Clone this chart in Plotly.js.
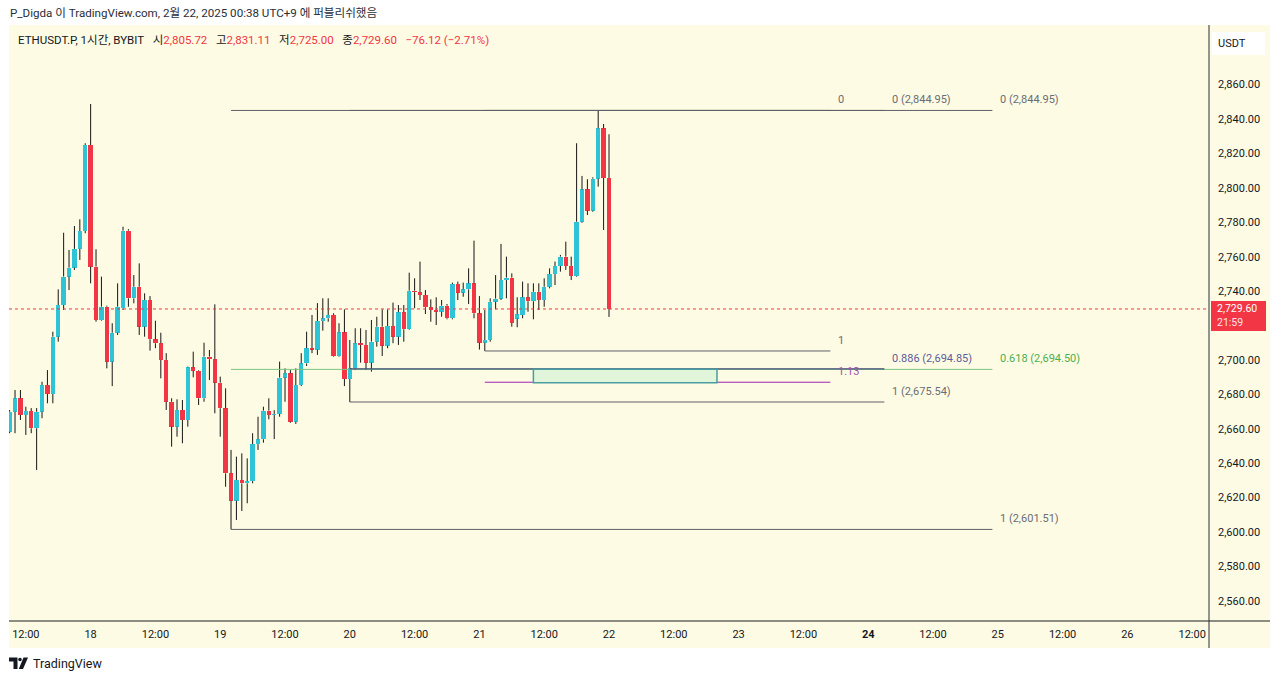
<!DOCTYPE html>
<html><head><meta charset="utf-8">
<script src="https://cdn.plot.ly/plotly-3.0.1.min.js"></script>
<style>html,body{margin:0;padding:0;background:#fff;}#chart{width:1280px;height:681px;}</style>
</head><body><div id="chart"></div>
<script>
// ---- DATA ----
const symbolTitle = 'ETHUSDT.P, 1시간, BYBIT';
const headerText = 'P_Digda 이 TradingView.com, 2월 22, 2025 00:38 UTC+9 에 퍼블리쉬했음';
const startHour = [2025, 1, 17, 9]; // first visible hourly candle (UTC+9 wall time)
const openP = [
2658.3,2669.9,2677.7,2668.0,2670.3,2660.3,2669.9,2685.4,2680.2,2713.5,2731.9,2748.4,2753.6,2764.5,2774.9,
2824.9,2754.2,2723.2,2730.9,2699.0,2715.8,2730.0,2775.1,2735.8,2742.5,2719.3,2734.8,2712.0,2709.7,2700.0,2675.7,2661.2,2670.9,2665.1,2695.7,2693.7,2677.7,2701.9,2700.4,
2686.8,2671.9,2634.1,2618.2,2630.2,2628.3,2629.6,2651.1,2653.9,2670.5,2668.0,2668.6,2689.7,2692.2,2664.1,2685.4,2698.0,2706.8,2706.0,2722.6,2724.2,2726.1,2702.3,2716.0,
2688.9,2695.1,2709.7,2708.7,2698.4,2710.6,2719.3,2708.3,2719.7,2713.5,2727.7,2717.8,2740.2,2739.4,2737.7,2730.6,2729.0,2728.0,2731.5,2724.2,2744.1,2739.1,2741.0,2744.5,
2727.1,2710.0,2711.6,2733.8,2735.6,2746.4,2747.8,2724.0,2726.1,2736.4,2734.1,2739.6,2734.8,2742.5,2749.9,2754.6,2760.0,2754.6,2748.8,2780.3,2799.1,2786.7,2805.3,2834.6,
2805.72];
const highP = [
2670.9,2682.5,2682.5,2672.8,2672.0,2672.0,2687.3,2694.1,2716.4,2741.0,2773.9,2763.9,2777.8,2781.7,2825.9,
2848.7,2764.3,2748.4,2731.5,2721.3,2744.5,2777.4,2776.0,2749.3,2756.1,2738.7,2737.1,2722.8,2715.8,2703.9,2677.7,2677.1,2676.7,2696.1,2704.8,2694.1,2710.0,2705.8,2732.3,
2690.3,2683.5,2647.7,2643.8,2645.7,2642.8,2657.4,2667.0,2672.8,2677.7,2670.8,2699.0,2695.1,2694.1,2695.1,2703.9,2716.4,2726.1,2733.0,2735.8,2735.8,2727.1,2721.3,2729.4,
2711.6,2718.4,2718.4,2717.4,2723.2,2725.1,2729.4,2729.4,2733.3,2731.9,2731.9,2750.7,2747.4,2757.1,2740.6,2735.2,2736.4,2734.8,2732.5,2744.9,2745.5,2744.9,2753.2,2769.3,
2737.1,2729.0,2735.8,2749.3,2767.4,2760.0,2750.3,2736.4,2745.5,2744.5,2744.5,2744.5,2747.4,2753.2,2757.1,2761.0,2768.7,2760.0,2825.9,2806.9,2805.0,2806.1,2844.95,2837.1,
2831.11];
const lowP = [
2657.4,2657.4,2665.1,2656.4,2657.4,2636.0,2666.1,2674.8,2674.8,2710.6,2729.0,2740.6,2752.3,2758.1,2773.6,
2744.5,2722.2,2722.8,2695.1,2684.8,2714.5,2729.0,2730.9,2732.9,2714.5,2713.5,2705.4,2706.8,2689.3,2670.9,2649.6,2655.4,2651.6,2661.2,2689.9,2673.8,2675.7,2688.3,2669.0,
2655.4,2626.3,2601.51,2607.0,2612.2,2616.7,2628.3,2647.7,2651.9,2665.5,2654.0,2667.0,2675.7,2663.5,2662.8,2684.8,2696.5,2703.9,2702.9,2717.0,2722.2,2701.9,2701.9,2684.8,
2675.54,2694.1,2698.4,2694.1,2693.2,2707.7,2702.3,2706.8,2709.7,2708.7,2710.6,2717.4,2730.0,2734.8,2726.7,2722.2,2720.3,2725.1,2723.6,2723.6,2734.8,2736.7,2732.5,2724.2,
2706.0,2705.2,2710.6,2729.4,2734.8,2735.8,2719.3,2719.0,2724.2,2728.0,2723.6,2729.0,2730.9,2741.6,2743.5,2751.3,2752.3,2746.4,2748.4,2779.7,2784.2,2786.1,2800.7,2775.5,
2725.00];
const closeP = [
2669.9,2677.7,2668.0,2670.3,2660.3,2669.9,2685.4,2680.2,2713.5,2731.9,2748.4,2753.6,2764.5,2774.9,2824.9,
2754.2,2723.2,2730.9,2699.0,2715.8,2730.9,2775.1,2735.8,2742.5,2719.3,2734.8,2712.0,2709.7,2700.0,2675.7,2661.2,2670.9,2665.1,2695.7,2693.7,2677.7,2701.9,2700.4,2686.8,
2671.9,2634.1,2618.2,2630.2,2628.3,2629.6,2651.1,2653.9,2670.5,2668.0,2668.6,2689.7,2692.2,2664.1,2685.4,2698.0,2706.8,2706.0,2722.6,2724.2,2726.1,2702.3,2716.0,2688.9,
2695.1,2709.7,2708.7,2698.4,2710.6,2719.3,2708.3,2719.7,2713.5,2727.7,2717.8,2740.2,2739.4,2737.7,2730.6,2729.0,2728.0,2731.5,2724.2,2744.1,2739.1,2741.0,2744.5,2727.1,
2710.0,2711.6,2733.8,2735.6,2746.4,2747.8,2721.5,2726.5,2736.4,2734.1,2739.6,2734.8,2742.5,2749.9,2754.6,2760.0,2754.6,2748.8,2780.3,2799.1,2786.7,2805.3,2834.6,2805.72,
2729.60];

// 2,720 is hidden behind the last-price label in the reference
const priceTicks = [2560,2580,2600,2620,2640,2660,2680,2700,2740,2760,2780,2800,2820,2840,2860];
const timeTickVals = ['2025-02-17 12:00','2025-02-18 00:00','2025-02-18 12:00','2025-02-19 00:00','2025-02-19 12:00','2025-02-20 00:00','2025-02-20 12:00','2025-02-21 00:00','2025-02-21 12:00','2025-02-22 00:00','2025-02-22 12:00','2025-02-23 00:00','2025-02-23 12:00','2025-02-24 00:00','2025-02-24 12:00','2025-02-25 00:00','2025-02-25 12:00','2025-02-26 00:00','2025-02-26 12:00'];
const timeTickText = ['12:00','18','12:00','19','12:00','20','12:00','21','12:00','22','12:00','23','12:00','<b>24</b>','12:00','25','12:00','26','12:00'];
const countdown = '21:59';

// Fibonacci retracements
const fibA_high = 2844.95, fibA_low = 2601.51, fibA_levels = [0, 0.618, 1];
const fibA_span = ['2025-02-19 02:00', '2025-02-24 23:00'];
const fibB_high = 2844.95, fibB_low = 2675.54, fibB_levels = [0, 0.886, 1];
const fibB_span = ['2025-02-20 00:00', '2025-02-24 03:00'];
const fibC_high = 2844.95, fibC_low = 2705.2, fibC_levels = [0, 1, 1.13];
const fibC_span = ['2025-02-21 01:00', '2025-02-23 17:00'];
const zone_span = ['2025-02-21 10:00', '2025-02-22 20:00'];
const zone_prices = [2686.8, 2694.6];

// ---- STYLE ----
const BG = '#fefbe4', UP = '#2fc3d6', DN = '#f23645', TXT = '#131722';
const FONT = "Roboto, 'Noto Sans CJK KR', sans-serif";
const pad = n => (n < 10 ? '0' : '') + n;
const times = openP.map((_, i) => {
  const d = new Date(Date.UTC(startHour[0], startHour[1], startHour[2], startHour[3] + i));
  return d.getUTCFullYear() + '-' + pad(d.getUTCMonth() + 1) + '-' + pad(d.getUTCDate()) + ' ' + pad(d.getUTCHours()) + ':00';
});
const fmt = v => v.toLocaleString('en-US', {minimumFractionDigits: 2, maximumFractionDigits: 2});

const wx = [], wy = [];
times.forEach((t, i) => {
  const top = Math.max(openP[i], closeP[i]), bot = Math.min(openP[i], closeP[i]);
  wx.push(t, t, null, t, t, null);
  wy.push(highP[i], top, null, bot, lowP[i], null);
});
const bodyBase = openP.map((o, i) => Math.min(o, closeP[i]));
const bodyLen = openP.map((o, i) => Math.max(Math.abs(closeP[i] - o), 0.6));
const bodyCol = openP.map((o, i) => closeP[i] >= o ? UP : DN);

const traces = [
  {type: 'scatter', mode: 'lines', x: wx, y: wy, line: {color: '#151515', width: 1}, hoverinfo: 'skip', connectgaps: false},
  {type: 'bar', x: times, base: bodyBase, y: bodyLen, width: 3600000 * 0.8, marker: {color: bodyCol, line: {width: 0}}, hoverinfo: 'skip'}
];

const px = X => (X - 9) / 1200;
const py = Y => (621 - Y) / 596;
const PPX = 0.5811; // price units per pixel on the y axis (for label offsets)

const shapes = [
  {type: 'rect', xref: 'paper', yref: 'paper', x0: px(9), x1: px(1270), y0: py(648), y1: py(25), fillcolor: BG, line: {width: 0}, layer: 'below'},
];
const annotations = [];

function addFib(high, low, levels, span, withPrice, styles) {
  levels.forEach((lv, k) => {
    const price = high - lv * (high - low);
    const st = styles[k];
    shapes.push({type: 'line', xref: 'x', yref: 'y', x0: span[0], x1: span[1], y0: price, y1: price, line: {color: st.line, width: st.w || 1}});
    annotations.push({x: span[1], y: price, xref: 'x', yref: 'y', xanchor: 'left', yanchor: 'bottom', xshift: 6, yshift: 2, showarrow: false,
      text: withPrice ? (lv + ' (' + fmt(price) + ')') : String(lv), font: {family: FONT, size: 11, color: st.text}});
  });
}
const GRAYL = '#5f6068', GRAYT = '#6b6d75';
addFib(fibA_high, fibA_low, fibA_levels, fibA_span, true, [{line: GRAYL, text: GRAYT}, {line: '#7cc47f', text: '#4caf50'}, {line: GRAYL, text: GRAYT}]);
addFib(fibB_high, fibB_low, fibB_levels, fibB_span, true, [{line: GRAYL, text: GRAYT}, {line: '#3f4a78', text: '#5d5b9c', w: 1.3}, {line: GRAYL, text: GRAYT}]);
addFib(fibC_high, fibC_low, fibC_levels, fibC_span, false, [{line: GRAYL, text: GRAYT}, {line: GRAYL, text: GRAYT}, {line: '#9c27b0', text: '#9c4fb0'}]);

shapes.push({type: 'rect', xref: 'x', yref: 'y', x0: zone_span[0], x1: zone_span[1], y0: zone_prices[0], y1: zone_prices[1], fillcolor: '#e0f5da', line: {color: '#4b9ea0', width: 1.5}});

const last = closeP.length - 1;
const cp = closeP[last];
shapes.push({type: 'line', xref: 'paper', yref: 'y', x0: 0, x1: 1, y0: cp, y1: cp, line: {color: DN, width: 1, dash: 'dot'}});
shapes.push({type: 'rect', xref: 'paper', yref: 'y', x0: px(1211), x1: px(1266), y0: cp - 22 * PPX, y1: cp + 8 * PPX, fillcolor: DN, line: {width: 0}});
annotations.push({xref: 'paper', yref: 'y', x: px(1216), y: cp + 0.5 * PPX, xanchor: 'left', yanchor: 'middle', borderpad: 0, showarrow: false, text: fmt(cp), font: {family: FONT, size: 10.5, color: '#ffffff'}});
annotations.push({xref: 'paper', yref: 'y', x: px(1216), y: cp - 14 * PPX, xanchor: 'left', yanchor: 'middle', borderpad: 0, showarrow: false, text: countdown, font: {family: FONT, size: 10.5, color: '#ffe3e5'}});

shapes.push({type: 'line', xref: 'paper', yref: 'paper', x0: px(9), x1: px(1270), y0: py(621), y1: py(621), line: {color: '#8d8c80', width: 2}});
shapes.push({type: 'line', xref: 'paper', yref: 'paper', x0: px(1209), x1: px(1209), y0: py(25), y1: py(648), line: {color: '#2a2e39', width: 1}});

shapes.push({type: 'rect', xref: 'paper', yref: 'paper', x0: px(1212), x1: px(1265), y0: py(55), y1: py(32), fillcolor: '#ffffff', line: {width: 0}});
annotations.push({xref: 'paper', yref: 'paper', x: px(1232), y: py(43.5), xanchor: 'center', yanchor: 'middle', showarrow: false, text: 'USDT', font: {family: FONT, size: 11, color: TXT}});

annotations.push({xref: 'paper', yref: 'paper', x: px(8), y: py(13), xanchor: 'left', yanchor: 'middle', showarrow: false, text: headerText, font: {family: FONT, size: 11.6, color: '#2a2e39'}});
const chg = closeP[last] - closeP[last - 1];
const pct = chg / closeP[last - 1] * 100;
const neg = s => s.replace('-', '\u2212');
const red = s => '<span style="color:' + DN + '">' + s + '</span>';
const sp = '\u00a0\u00a0\u00a0';
const legendText = symbolTitle + sp + '시' + red(fmt(openP[last])) + sp + '고' + red(fmt(highP[last])) + sp + '저' + red(fmt(lowP[last])) + sp + '종' + red(fmt(closeP[last])) + sp + red(neg(chg.toFixed(2)) + ' (' + neg(pct.toFixed(2)) + '%)');
annotations.push({xref: 'paper', yref: 'paper', x: px(16), y: py(40), xanchor: 'left', yanchor: 'middle', showarrow: false, text: legendText, font: {family: FONT, size: 11.5, color: TXT}});

const P = (X, Y) => px(X) + ',' + py(Y);
shapes.push({type: 'path', xref: 'paper', yref: 'paper', path: 'M' + P(9, 657.5) + ' L' + P(17.5, 657.5) + ' L' + P(17.5, 669) + ' L' + P(13.5, 669) + ' L' + P(13.5, 661.5) + ' L' + P(9, 661.5) + ' Z', fillcolor: TXT, line: {width: 0}});
shapes.push({type: 'circle', xref: 'paper', yref: 'paper', x0: px(18.2), x1: px(21.8), y0: py(661.3), y1: py(657.7), fillcolor: TXT, line: {width: 0}});
shapes.push({type: 'path', xref: 'paper', yref: 'paper', path: 'M' + P(23.5, 657.5) + ' L' + P(28, 657.5) + ' L' + P(23, 669) + ' L' + P(18.8, 669) + ' Z', fillcolor: TXT, line: {width: 0}});
annotations.push({xref: 'paper', yref: 'paper', x: px(31), y: py(663.5), xanchor: 'left', yanchor: 'middle', showarrow: false, text: 'TradingView', font: {family: FONT, size: 12.5, color: TXT}});

const layout = {
  width: 1280, height: 681,
  margin: {l: 9, r: 71, t: 25, b: 60, pad: 0},
  paper_bgcolor: '#ffffff', plot_bgcolor: BG,
  showlegend: false, bargap: 0, dragmode: false,
  xaxis: {type: 'date', range: ['2025-02-17 08:53', '2025-02-26 15:07'], tickvals: timeTickVals, ticktext: timeTickText,
    showgrid: false, zeroline: false, showline: false, ticks: '', ticklabelstandoff: 5,
    tickfont: {family: FONT, size: 11, color: TXT}, fixedrange: true},
  yaxis: {side: 'right', range: [2548.3, 2894.6], tickvals: priceTicks, ticktext: priceTicks.map(fmt),
    showgrid: false, zeroline: false, showline: false, ticks: '', ticklabelstandoff: 8,
    tickfont: {family: FONT, size: 11, color: TXT}, fixedrange: true},
  shapes: shapes, annotations: annotations
};
Plotly.newPlot('chart', traces, layout, {staticPlot: true, displayModeBar: false});
</script></body></html>
